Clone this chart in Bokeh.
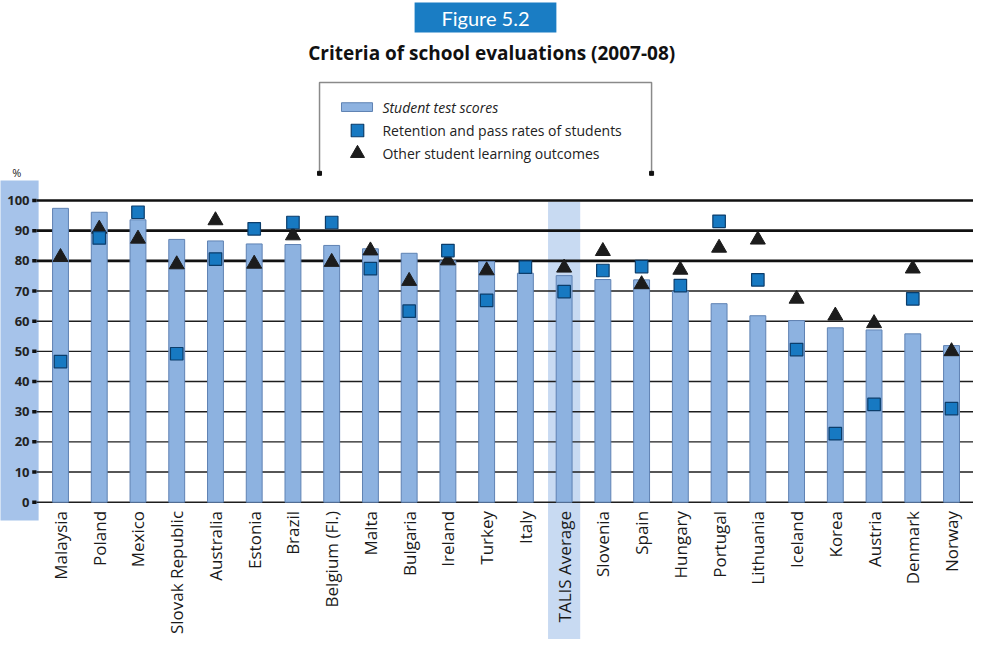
import math
from bokeh.plotting import figure
from bokeh.models import Range1d
from bokeh.embed import file_html
from bokeh.resources import INLINE
from bokeh.core.properties import value

countries = ["Malaysia", "Poland", "Mexico", "Slovak Republic", "Australia", "Estonia",
             "Brazil", "Belgium (Fl.)", "Malta", "Bulgaria", "Ireland", "Turkey", "Italy",
             "TALIS Average", "Slovenia", "Spain", "Hungary", "Portugal", "Lithuania",
             "Iceland", "Korea", "Austria", "Denmark", "Norway"]
test_scores = [97.4, 96.1, 93.6, 87.1, 86.6, 85.6, 85.4, 85.1, 84.0, 82.5, 80.0, 79.8,
               75.9, 75.1, 73.8, 73.7, 70.0, 65.8, 61.8, 60.2, 57.8, 57.1, 55.8, 51.9]
retention = [46.6, 87.6, 96.1, 49.2, 80.6, 90.6, 92.7, 92.7, 77.4, 63.3, 83.4, 66.9,
             77.9, 69.8, 76.8, 78.1, 71.8, 93.1, 73.7, 50.6, 22.7, 32.4, 67.4, 31.0]
other = [81.2, 90.6, 87.3, 78.8, 93.4, 79.0, 88.4, 79.6, 83.4, 73.3, 80.1, 76.8,
         float("nan"), 77.7, 83.2, 72.2, 77.0, 84.3, 87.0, 67.4, 61.8, 59.3, 77.4, 50.0]
y_ticks = [0, 10, 20, 30, 40, 50, 60, 70, 80, 90, 100]
y_tick_labels = [str(t) for t in y_ticks]
thin_grid = [0, 10, 20, 30, 40, 50, 60, 70]
thick_grid = [80, 90, 100]
average_name = "TALIS Average"
title_text = "Criteria of school evaluations (2007-08)"
figure_label = "Figure 5.2"
legend_labels = ["Student test scores", "Retention and pass rates of students",
                 "Other student learning outcomes"]
unit_label = "%"

BAR_FILL = "#8db2e0"
BAR_LINE = "#5f82b3"
SQ_FILL = "#1779c2"
SQ_LINE = "#0b3d6b"
TRI_FILL = "#1c1c1c"
STRIP = "#a6c3ea"
HILITE = "#c8daf2"
FONT = value("Open Sans")

xs = list(range(len(countries)))
avg_idx = countries.index(average_name)

Y0, Y1 = -45.51, 166.29
p = figure(width=973, height=639, output_backend="svg", toolbar_location=None,
           x_range=Range1d(-1.549, 23.567), y_range=Range1d(Y0, Y1),
           x_axis_location=None, y_axis_location=None, min_border=0,
           outline_line_color=None, background_fill_color="white",
           border_fill_color="white")
p.grid.visible = False

# left strip behind the y tick labels
p.quad(left=[-1.7], right=[-0.565], bottom=[-6.1], top=[106.6],
       fill_color=STRIP, line_color=None)
# TALIS average highlight
p.vbar(x=[xs[avg_idx]], width=0.83, bottom=Y0, top=99.6,
       fill_color=HILITE, line_color=None)

# grid lines
p.segment(x0=[-0.62] * len(thin_grid), x1=[23.6] * len(thin_grid),
          y0=thin_grid, y1=thin_grid, line_color="#1e1e1e", line_width=1.4)
p.segment(x0=[-0.62] * len(thick_grid), x1=[23.6] * len(thick_grid),
          y0=thick_grid, y1=thick_grid, line_color="#111111", line_width=2.7)
# tick marks
p.segment(x0=[-0.73] * len(y_ticks), x1=[-0.62] * len(y_ticks),
          y0=y_ticks, y1=y_ticks, line_color="#111111", line_width=3.5)
p.text(x=[-0.80] * len(y_ticks), y=y_ticks, text=y_tick_labels,
       text_align="right", text_baseline="middle", text_font=FONT,
       text_font_style="bold", text_font_size="13px", text_color="#222222")
p.text(x=[-1.13], y=[109.2], text=[unit_label], text_align="center",
       text_baseline="middle", text_font=FONT, text_font_size="11px",
       text_color="#222222")

# data
p.vbar(x=xs, top=test_scores, bottom=0, width=0.41, fill_color=BAR_FILL,
       line_color=BAR_LINE, line_width=1)
p.scatter(x=xs, y=other, marker="triangle", size=15, fill_color=TRI_FILL,
          line_color=TRI_FILL)
p.scatter(x=xs, y=retention, marker="square", size=12.5, fill_color=SQ_FILL,
          line_color=SQ_LINE, line_width=1.2)

# category labels
p.text(x=xs, y=[-2.9] * len(xs), text=countries, angle=math.pi / 2,
       text_align="right", text_baseline="middle", text_font=FONT,
       text_font_size="17px", text_color="#1a1a1a")

# figure badge and title
p.quad(left=[9.14], right=[12.80], bottom=[155.7], top=[165.6],
       fill_color="#1a7dc4", line_color=None)
p.text(x=[10.97], y=[160.4], text=[figure_label], text_align="center",
       text_baseline="middle", text_font=value("Lato"),
       text_font_size="20px", text_color="white")
p.text(x=[11.13], y=[149.0], text=[title_text], text_align="center",
       text_baseline="middle", text_font=FONT, text_font_style="bold",
       text_font_size="19px", text_color="#111111")

# legend frame
p.line(x=[6.686, 6.686, 15.257, 15.257], y=[109.0, 139.1, 139.1, 109.0],
       line_color="#8a8a8a", line_width=1.5)
p.scatter(x=[6.686, 15.257], y=[109.0, 109.0], marker="square", size=4,
          fill_color="#111111", line_color="#111111")
p.quad(left=[7.253], right=[8.054], bottom=[129.5], top=[132.4],
       fill_color=BAR_FILL, line_color=BAR_LINE, line_width=1)
p.scatter(x=[7.666], y=[123.2], marker="square", size=12.5, fill_color=SQ_FILL,
          line_color=SQ_LINE, line_width=1.2)
p.scatter(x=[7.666], y=[115.6], marker="triangle", size=14, fill_color=TRI_FILL,
          line_color=TRI_FILL)
p.text(x=[8.31] * 3, y=[130.9, 123.2, 115.6], text=legend_labels,
       text_align="left", text_baseline="middle", text_font=FONT,
       text_font_size="14px", text_color="#222222",
       text_font_style=["italic", "normal", "normal"])

open("out.html", "w").write(file_html(p, INLINE))
